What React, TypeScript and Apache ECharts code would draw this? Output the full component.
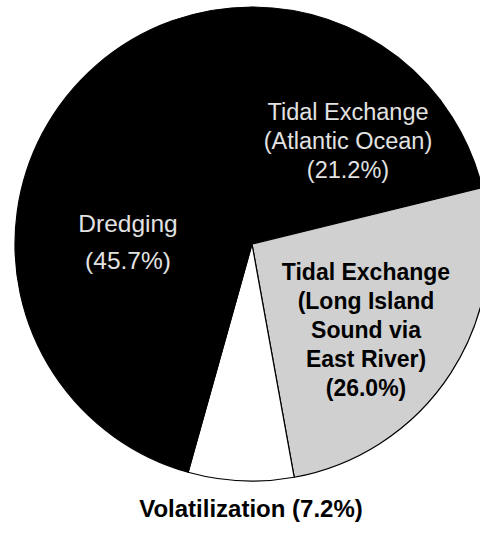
import React, { useEffect, useRef } from "react";
import * as echarts from "echarts";

const categories = [
  "Tidal Exchange\n(Atlantic Ocean)",
  "Tidal Exchange\n(Long Island\nSound via\nEast River)",
  "Volatilization",
  "Dredging",
];
const values = [21.2, 26.0, 7.2, 45.7];
const sliceColors = ["#000000", "#d0d0d0", "#ffffff", "#000000"];
const labelColors = ["#e2e2e2", "#000000", "#000000", "#e2e2e2"];
const labelWeights = ["normal", "bold", "bold", "normal"];
const labelSizes = [23.5, 23, 24, 24.5];
const labelLineHeights = [29, 29, 26, 37];
const labelPos = [
  [348, 141],
  [366, 330],
  [251, 508],
  [128, 242],
];

export default function App() {
  const ref = useRef<HTMLDivElement>(null);
  useEffect(() => {
    document.body.style.margin = "0";
    const chart = echarts.init(ref.current!, null, { renderer: "svg" });
    chart.setOption({
      animation: false,
      backgroundColor: "#ffffff",
      series: [
        {
          type: "pie",
          center: [252, 244],
          radius: 237,
          startAngle: 90,
          clockwise: true,
          avoidLabelOverlap: false,
          itemStyle: { borderColor: "#000", borderWidth: 1.2 },
          label: {
            show: true,
            position: "inside",
            fontFamily: "Liberation Sans",
          },
          labelLine: { show: false },
          emphasis: { disabled: true },
          labelLayout: (p: any) => {
            const i = p.dataIndex;
            return { x: labelPos[i][0], y: labelPos[i][1] };
          },
          data: categories.map((c, i) => ({
            name: c,
            value: values[i],
            itemStyle: { color: sliceColors[i] },
            label: {
              formatter: `${c}${i === 2 ? " " : "\n"}(${values[i].toFixed(1)}%)`,
              color: labelColors[i],
              fontWeight: labelWeights[i],
              fontSize: labelSizes[i],
              lineHeight: labelLineHeights[i],
              align: "center",
              verticalAlign: "middle",
            },
          })),
        },
      ],
    });
    return () => chart.dispose();
  }, []);
  return <div ref={ref} style={{ width: 480, height: 533 }} />;
}
